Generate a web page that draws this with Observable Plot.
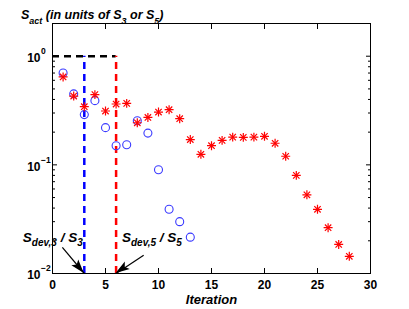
<!DOCTYPE html>
<html><head><meta charset="utf-8">
<script src="https://cdn.jsdelivr.net/npm/d3@7"></script>
<script src="https://cdn.jsdelivr.net/npm/@observablehq/plot@0.6"></script>
<style>body{margin:0;background:#fff} svg{font-family:"Liberation Sans",Arial,sans-serif}</style>
</head><body><div id="chart"></div>
<script>
// Blue circles (S3)
const iterBlue = [1,2,3,4,5,6,7,8,9,10,11,12,13];
const sBlue = [0.70,0.45,0.29,0.39,0.22,0.15,0.153,0.255,0.196,0.090,0.039,0.030,0.0216];
// Red asterisks (S5)
const iterRed = [1,2,3,4,5,6,7,8,9,10,11,12,13,14,15,16,17,18,19,20,21,22,23,24,25,26,27,28];
const sRed = [0.645,0.43,0.343,0.443,0.313,0.363,0.368,0.244,0.273,0.306,0.322,0.266,0.171,0.125,0.150,0.168,0.180,0.179,0.180,0.183,0.158,0.120,0.080,0.053,0.039,0.0264,0.0185,0.0144];
// Axis ticks
const xTicks = [0,5,10,15,20,25,30];
const yMajor = [0.01,0.1,1];
const yExp = ["\u22122","\u22121","0"];
const yMinor = [0.02,0.03,0.04,0.05,0.06,0.07,0.08,0.09,0.2,0.3,0.4,0.5,0.6,0.7,0.8,0.9,2];
// Threshold lines
const devX = [3,6];
const devColor = ["blue","red"];
const devLevel = 1;
// Annotations (data coordinates)
const annText = [["S","dev,3"," / S","3"],["S","dev,5"," / S","5"]];
const annX = [-2.75, 6.6];
const annY = [0.0193, 0.0193];
const arrowX1 = [0.93, 8.6];
const arrowY1 = [0.0174, 0.0147];
const arrowX2 = [3, 6];
const arrowY2 = [0.01, 0.01];

const blue = iterBlue.map((x,i)=>({x, y: sBlue[i]}));
const red = iterRed.map((x,i)=>({x, y: sRed[i]}));
const devs = devX.map((x,i)=>({x, c: devColor[i]}));

const font = {fontSize: 12, fontWeight: "bold"};
const chart = Plot.plot({
  width: 409, height: 309,
  marginLeft: 52, marginRight: 39, marginTop: 23, marginBottom: 36,
  style: {fontFamily: "Liberation Sans, Arial, sans-serif", background: "white", overflow: "visible", color: "black"},
  x: {domain: [0,30]},
  y: {type: "log", domain: [0.01, 2]},
  marks: [
    Plot.ruleY([devLevel], {x1: 0, x2: 6, stroke: "black", strokeWidth: 2.5, strokeDasharray: "7,5"}),
    Plot.ruleX(devs, {x: "x", y1: 0.01, y2: devLevel, stroke: "c", strokeWidth: 2.5, strokeDasharray: "7,5"}),
    Plot.dot(blue, {x: "x", y: "y", r: 4, stroke: "#3a3aff", strokeWidth: 1.1, symbol: "circle"}),
    Plot.dot(red, {x: "x", y: "y", r: 3, stroke: "red", strokeWidth: 1.2, symbol: "plus"}),
    Plot.dot(red, {x: "x", y: "y", r: 3, stroke: "red", strokeWidth: 1.2, symbol: "times"}),
    Plot.frame({stroke: "black"}),
    Plot.axisX({anchor: "bottom", ticks: xTicks, tickSize: -5, tickFormat: () => "", label: null}),
    Plot.axisX({anchor: "top", ticks: xTicks, tickSize: -5, tickFormat: () => "", label: null}),
    Plot.axisX({anchor: "bottom", ticks: xTicks, tickSize: 0, tickPadding: 7, tickFormat: d => String(d), label: null, ...font}),
    Plot.axisY({anchor: "left", ticks: yMajor, tickSize: -5, tickFormat: () => "", label: null}),
    Plot.axisY({anchor: "right", ticks: yMajor, tickSize: -5, tickFormat: () => "", label: null}),
    Plot.axisY({anchor: "left", ticks: yMinor, tickSize: -3, tickFormat: () => "", label: null}),
    Plot.axisY({anchor: "right", ticks: yMinor, tickSize: -3, tickFormat: () => "", label: null}),
    Plot.text(yMajor, {y: d => d, frameAnchor: "left", text: () => "10", dx: -12, dy: 2, textAnchor: "end", ...font}),
    Plot.text(yMajor, {y: d => d, frameAnchor: "left", text: (d,i) => yExp[i], dx: -11.5, dy: -5, textAnchor: "start", fontSize: 8.5, fontWeight: "bold"}),
    Plot.text(["Iteration"], {frameAnchor: "bottom", text: d => d, dy: 21, lineAnchor: "top", fontSize: 13, fontWeight: "bold", fontStyle: "italic"}),
    Plot.link(arrowX1.map((x,i)=>i), {x1: i => arrowX1[i], y1: i => arrowY1[i], x2: i => arrowX2[i], y2: i => arrowY2[i], stroke: "black", strokeWidth: 1.2})
  ]
});
document.getElementById("chart").appendChild(chart);

const svg = d3.select(chart);
const sx = chart.scale("x"), sy = chart.scale("y");

function richText(g, parts, size, subSize, shift) {
  parts.forEach((p, i) => {
    const isSub = i % 2 === 1;
    g.append("tspan")
      .attr("dy", isSub ? shift : (i === 0 ? 0 : -shift))
      .attr("font-size", isSub ? subSize : size)
      .text(p);
  });
}

// Title
const title = svg.append("text").attr("x", 21).attr("y", 19).attr("text-anchor", "start")
  .attr("font-weight", "bold").attr("font-style", "italic").attr("fill", "black");
richText(title, ["S","act"," (in units of S","3"," or S","5",")"], 12.5, 9, 5);

// Annotations
annText.forEach((parts, i) => {
  const t = svg.append("text").attr("x", sx.apply(annX[i])).attr("y", sy.apply(annY[i])).attr("text-anchor", "start")
    .attr("font-weight", "bold").attr("font-style", "italic").attr("fill", "black");
  richText(t, parts, 13.5, 10, 4.5);
});

// Filled arrowheads
arrowX1.forEach((x1, i) => {
  const ax = sx.apply(x1), ay = sy.apply(arrowY1[i]);
  const bx = sx.apply(arrowX2[i]), by = sy.apply(arrowY2[i]);
  const ang = Math.atan2(by - ay, bx - ax);
  const L = 14, W = 4.5, B = 11;
  const ux = Math.cos(ang), uy = Math.sin(ang), px = -uy, py = ux;
  const pts = [
    [bx, by],
    [bx - L*ux + W*px, by - L*uy + W*py],
    [bx - B*ux, by - B*uy],
    [bx - L*ux - W*px, by - L*uy - W*py]
  ];
  svg.append("path").attr("d", "M" + pts.map(p => p.join(",")).join("L") + "Z").attr("fill", "black");
});
</script>
</body></html>
